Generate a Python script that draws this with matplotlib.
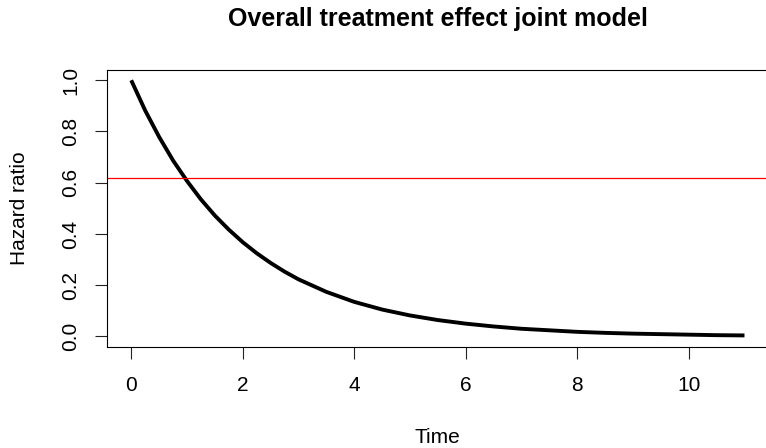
import matplotlib
matplotlib.use("Agg")
import matplotlib.pyplot as plt

plt.rcParams['font.family'] = ['Liberation Sans', 'DejaVu Sans']

time = [0, 0.25, 0.5, 0.75, 1, 1.25, 1.5, 1.75, 2, 2.25, 2.5, 2.75, 3, 3.5, 4,
        4.5, 5, 5.5, 6, 6.5, 7, 7.5, 8, 8.5, 9, 9.5, 10, 10.5, 11]
hazard_ratio = [1.0, 0.882, 0.779, 0.687, 0.607, 0.535, 0.472, 0.417, 0.368,
                0.325, 0.287, 0.253, 0.223, 0.174, 0.135, 0.105, 0.082, 0.064,
                0.050, 0.039, 0.030, 0.024, 0.018, 0.014, 0.011, 0.009, 0.007,
                0.005, 0.004]
overall_hr = 0.618
x_ticks = [0, 2, 4, 6, 8, 10]
y_ticks = [0.0, 0.2, 0.4, 0.6, 0.8, 1.0]
y_ticklabels = ["0.0", "0.2", "0.4", "0.6", "0.8", "1.0"]

W, H = 766, 448
fig = plt.figure(figsize=(W / 100, H / 100), dpi=100)
left, right, top, bottom = 106.7, 769, 70, 346.7
ax = fig.add_axes([left / W, 1 - bottom / H, (right - left) / W, (bottom - top) / H])

ax.plot(time, hazard_ratio, color='black', linewidth=2.8, solid_joinstyle='round',
        solid_capstyle='butt')
ax.axhline(overall_hr, color='#ff0000', linewidth=0.9)

ax.set_xlim(-0.44, 11.44)
ax.set_ylim(-0.04, 1.04)
ax.set_xticks(x_ticks)
ax.set_xticklabels([str(v) for v in x_ticks])
ax.set_yticks(y_ticks)
ax.set_yticklabels(y_ticklabels, rotation=90, va='center')

for s in ax.spines.values():
    s.set_color('black')
    s.set_linewidth(0.8)
ax.tick_params(axis='both', direction='out', length=8.5, width=0.8, color='#222222',
               labelsize=15)
ax.tick_params(axis='x', pad=12.5)
ax.tick_params(axis='y', pad=10.5)

fig.text((left + right) / 2 / W, 1 - 19 / H, "Overall treatment effect joint model",
         ha='center', va='center', fontsize=18, fontweight='bold')
fig.text((left + right) / 2 / W, 1 - 437 / H, "Time", ha='center', va='center',
         fontsize=15)
fig.text(20 / W, 1 - 208 / H, "Hazard ratio", ha='center', va='center',
         rotation=90, fontsize=15)

fig.savefig("out.png", dpi=100)
